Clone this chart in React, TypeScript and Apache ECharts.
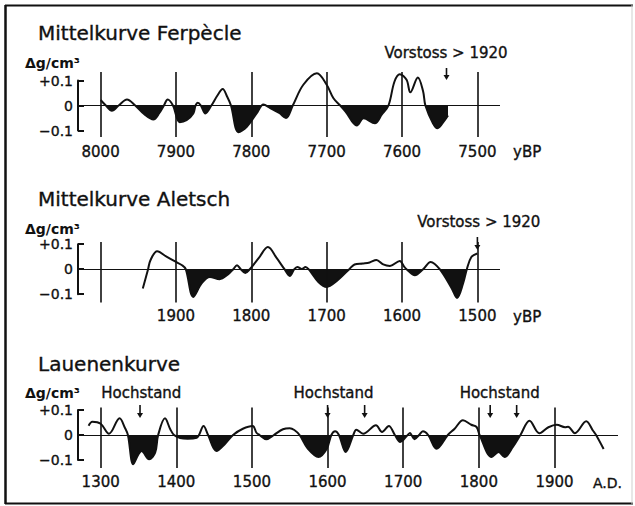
import React, { useEffect, useRef } from "react";
import * as echarts from "echarts";

// ---------- data ----------
const ferpYears = [8000, 7993, 7985, 7976, 7965, 7954, 7942, 7930, 7922, 7916, 7911, 7904, 7895, 7886, 7877, 7874, 7871, 7867, 7861, 7853, 7845, 7838, 7832, 7827, 7817, 7806, 7793, 7784, 7775, 7763, 7754, 7745, 7731, 7713, 7700, 7691, 7682, 7675, 7660, 7651, 7636, 7627, 7618, 7610, 7603, 7594, 7589, 7579, 7572, 7569, 7559, 7553, 7543, 7539];
const ferpValues = [0.022, 0, -0.021, 0, 0.024, 0, -0.035, -0.056, -0.03, 0, 0.024, 0, -0.067, -0.059, -0.032, 0, 0.011, 0, -0.032, 0, 0.04, 0.066, 0.035, 0, -0.107, -0.085, -0.032, 0.004, -0.01, -0.03, -0.05, 0, 0.083, 0.129, 0.083, 0.029, 0, -0.024, -0.08, -0.051, -0.071, -0.037, 0, 0.096, 0.125, 0.103, 0.053, 0.112, 0.056, 0, -0.071, -0.091, -0.057, -0.04];

const aletschYears = [1944, 1937, 1934, 1925, 1912, 1900, 1892, 1887, 1877, 1866, 1855, 1842, 1831, 1824, 1819, 1814, 1808, 1802, 1790, 1778, 1766, 1756, 1749, 1743, 1739, 1733, 1728, 1724, 1711, 1700, 1687, 1670, 1663, 1652, 1643, 1634, 1625, 1616, 1603, 1597, 1594, 1583, 1572, 1562, 1550, 1534, 1527, 1519, 1514, 1508, 1500];
const aletschValues = [-0.077, 0, 0.035, 0.072, 0.049, 0.029, 0.016, 0, -0.111, -0.057, -0.031, -0.04, -0.021, 0, 0.016, 0, -0.015, 0, 0.045, 0.089, 0.043, 0, -0.027, 0, 0.009, 0.001, 0.009, 0, -0.051, -0.071, -0.048, 0, 0.019, 0.023, 0.027, 0.037, 0.019, 0.013, 0.033, 0.009, 0, -0.024, 0, 0.029, 0, -0.077, -0.115, -0.057, 0, 0.049, 0.063];

const lauenenYears = [1284, 1289, 1300, 1311, 1325, 1332, 1336, 1343, 1350, 1354, 1364, 1372, 1376, 1385, 1392, 1397, 1405, 1415, 1427, 1430, 1436, 1442, 1453, 1464, 1475, 1488, 1501, 1506, 1510, 1519, 1529, 1541, 1550, 1556, 1563, 1574, 1588, 1599, 1605, 1610, 1615, 1624, 1634, 1638, 1647, 1664, 1672, 1681, 1689, 1696, 1706, 1709, 1711, 1715, 1721, 1726, 1733, 1744, 1759, 1768, 1779, 1790, 1797, 1801, 1817, 1826, 1834, 1845, 1855, 1867, 1880, 1892, 1903, 1914, 1918, 1927, 1942, 1951, 1955, 1965];
const lauenenValues = [0.037, 0.053, 0.045, 0.005, 0.067, 0.029, 0, -0.117, -0.077, -0.064, -0.097, -0.071, 0, 0.067, 0.023, 0, -0.012, -0.015, -0.011, 0, 0.036, 0, -0.064, -0.037, 0, 0.025, 0.036, 0.009, 0, -0.017, 0, 0.023, 0.027, 0.02, 0, -0.055, -0.088, -0.055, 0, 0.015, 0, -0.068, 0, 0.021, 0.005, 0.039, 0.012, 0.036, 0, -0.028, 0, 0.008, 0, -0.017, 0, 0.015, 0, -0.055, 0, 0.025, 0.059, 0.041, 0.032, 0, -0.088, -0.068, -0.088, -0.048, 0, 0.057, 0.007, 0.031, 0.041, 0.031, 0.033, 0.007, 0.055, 0.017, 0, -0.056];

// fill (black below zero) only between these years
const ferpFillRange = [7470, 8030];
const aletschFillRange = [1470, 1937];
const lauenenFillRange = [1270, 1955];

const ferpGridYears = [8000, 7900, 7800, 7700, 7600, 7500];
const ferpTickLabels = [8000, 7900, 7800, 7700, 7600, 7500];
const aletschGridYears = [2000, 1900, 1800, 1700, 1600, 1500];
const aletschTickLabels = [1900, 1800, 1700, 1600, 1500];
const lauenenGridYears = [1300, 1400, 1500, 1600, 1700, 1800, 1900];
const lauenenTickLabels = [1300, 1400, 1500, 1600, 1700, 1800, 1900];

const ferpArrowYears = [7541];
const aletschArrowYears = [1500];
const lauenenArrowYears = [1352, 1600, 1649, 1815, 1850];

const yBracketTicks = [-0.1, 0, 0.1];

// ---------- style / layout ----------
const FONT = "'DejaVu Sans', 'Liberation Sans', sans-serif";
const INK = "#111111";
const PX_PER_UNIT = 250; // 25 px per 0.1
const SMOOTH = 0.35;
const TEXT_STROKE = 0.35;

const panels = [
  {
    title: "Mittelkurve Ferpècle", titleY: 33.3, unitY: 63.3,
    years: ferpYears, values: ferpValues, fillRange: ferpFillRange,
    gridYears: ferpGridYears, labels: ferpTickLabels, arrowYears: ferpArrowYears,
    min: 7470, max: 8030, inverse: true,
    left: 78, right: 500, top: 72, bottom: 137, zero: 105.5, labelMargin: 7,
    arrowTop: 68, arrowBottom: 80,
    unitText: "yBP", unitX: 513, unitLabelY: 152,
    notes: [{ text: "Vorstoss > 1920", x: 446, y: 53.3, size: 15 }],
  },
  {
    title: "Mittelkurve Aletsch", titleY: 199.3, unitY: 229.3,
    years: aletschYears, values: aletschValues, fillRange: aletschFillRange,
    gridYears: aletschGridYears, labels: aletschTickLabels, arrowYears: aletschArrowYears,
    min: 1470, max: 2030, inverse: true,
    left: 78, right: 500, top: 242, bottom: 302.5, zero: 269.2, labelMargin: 6,
    arrowTop: 237, arrowBottom: 250,
    unitText: "yBP", unitX: 513, unitLabelY: 316.7,
    notes: [{ text: "Vorstoss > 1920", x: 478.8, y: 221.7, size: 15 }],
  },
  {
    title: "Lauenenkurve", titleY: 364, unitY: 393.3,
    years: lauenenYears, values: lauenenValues, fillRange: lauenenFillRange,
    gridYears: lauenenGridYears, labels: lauenenTickLabels, arrowYears: lauenenArrowYears,
    min: 1270, max: 1984, inverse: false,
    left: 78, right: 618, top: 407.5, bottom: 468, zero: 435, labelMargin: 6,
    arrowTop: 405, arrowBottom: 418,
    unitText: "A.D.", unitX: 593, unitLabelY: 482.7,
    notes: [
      { text: "Hochstand", x: 141.3, y: 393.3, size: 15 },
      { text: "Hochstand", x: 333.5, y: 392.7, size: 15 },
      { text: "Hochstand", x: 499.7, y: 392.7, size: 15 },
    ],
  },
];

function arrow(x: number, y1: number, y2: number) {
  return {
    type: "group",
    children: [
      { type: "line", shape: { x1: x, y1, x2: x, y2: y2 - 4 }, style: { stroke: INK, lineWidth: 1.6 } },
      { type: "polygon", shape: { points: [[x - 3, y2 - 5], [x + 3, y2 - 5], [x, y2]] }, style: { fill: INK } },
    ],
  };
}

function text(t: string, x: number, y: number, size: number, align = "left", weight = "normal") {
  return {
    type: "text",
    x, y,
    style: {
      text: t, fill: INK, font: `${weight} ${size}px ${FONT}`,
      textAlign: align, textVerticalAlign: "middle",
      stroke: INK, lineWidth: weight === "bold" ? 0 : TEXT_STROKE,
    },
  };
}

export default function App() {
  const ref = useRef<HTMLDivElement>(null);
  useEffect(() => {
    if (!ref.current) return;
    const chart = echarts.init(ref.current, null, { renderer: "svg", width: 635, height: 506 });

    const grid: any[] = [];
    const xAxis: any[] = [];
    const yAxis: any[] = [];
    const series: any[] = [];
    const visualMap: any[] = [];

    panels.forEach((p, i) => {
      grid.push({
        left: p.left, top: p.top, width: p.right - p.left, height: p.bottom - p.top,
        containLabel: false, outerBoundsMode: "none",
      });
      xAxis.push({
        type: "value", gridIndex: i, min: p.min, max: p.max, inverse: p.inverse, interval: 10,
        axisLine: { show: false }, axisTick: { show: false }, splitLine: { show: false },
        axisLabel: {
          margin: p.labelMargin, fontSize: 15, fontFamily: FONT, color: INK,
          textBorderColor: INK, textBorderWidth: TEXT_STROKE,
          showMinLabel: true, showMaxLabel: true,
          formatter: (v: number) => (p.labels.includes(Math.round(v)) ? String(Math.round(v)) : ""),
        },
      });
      yAxis.push({
        type: "value", gridIndex: i,
        min: -(p.bottom - p.zero) / PX_PER_UNIT, max: (p.zero - p.top) / PX_PER_UNIT,
        show: false,
      });
    });
    panels.forEach((p, i) => {
      grid.push({
        left: p.left, top: p.zero - 25, width: p.right - p.left, height: 50,
        containLabel: false, outerBoundsMode: "none",
      });
      xAxis.push({ type: "value", gridIndex: 3 + i, min: p.min, max: p.max, inverse: p.inverse, show: false });
      yAxis.push({
        type: "value", gridIndex: 3 + i, min: yBracketTicks[0], max: yBracketTicks[2], interval: 0.1,
        axisLine: { show: true, onZero: false, lineStyle: { color: INK, width: 2 } },
        axisTick: { show: true, inside: true, length: 6, lineStyle: { color: INK, width: 2 } },
        splitLine: { show: false },
        axisLabel: {
          margin: 5, fontSize: 14, fontFamily: FONT, color: INK,
          textBorderColor: INK, textBorderWidth: TEXT_STROKE,
          formatter: (v: number) => (v > 0.05 ? "+0.1" : v < -0.05 ? "\u22120.1" : "0"),
        },
      });
    });

    panels.forEach((p, i) => {
      const pairs = p.years.map((y, k) => [y, p.values[k]]);
      const fillPairs = pairs.filter((d) => d[0] >= p.fillRange[0] && d[0] <= p.fillRange[1]);
      series.push({
        type: "line", xAxisIndex: i, yAxisIndex: i, data: fillPairs, smooth: SMOOTH,
        showSymbol: false, silent: true, z: 2,
        lineStyle: { width: 0, opacity: 0 }, areaStyle: { opacity: 1 },
      });
      series.push({
        type: "line", xAxisIndex: i, yAxisIndex: i, data: pairs, smooth: SMOOTH,
        showSymbol: false, silent: true, z: 3,
        itemStyle: { color: INK }, lineStyle: { color: INK, width: 2 },
        markLine: {
          silent: true, symbol: ["none", "none"], label: { show: false },
          data: [
            ...p.gridYears.map((y) => ({ xAxis: y, lineStyle: { color: INK, width: 1.6, type: "solid" } })),
            { yAxis: 0, lineStyle: { color: INK, width: 1, type: "solid" } },
          ],
        },
      });
      visualMap.push({
        type: "piecewise", show: false, seriesIndex: 2 * i, dimension: 1,
        pieces: [
          { gte: -1, lt: 0, color: INK },
          { gte: 0, lte: 1, color: "rgba(255,255,255,0)" },
        ],
        outOfRange: { color: "rgba(255,255,255,0)" },
      });
    });

    chart.setOption({
      animation: false,
      backgroundColor: "#ffffff",
      grid, xAxis, yAxis, series, visualMap,
    });

    const graphic: any[] = [
      // frame
      { type: "line", shape: { x1: 5, y1: 5.5, x2: 633, y2: 5.5 }, style: { stroke: INK, lineWidth: 2 } },
      { type: "line", shape: { x1: 5.5, y1: 5, x2: 5.5, y2: 504 }, style: { stroke: INK, lineWidth: 2.5 } },
      { type: "line", shape: { x1: 5, y1: 503.5, x2: 633, y2: 503.5 }, style: { stroke: INK, lineWidth: 2 } },
      { type: "line", shape: { x1: 632, y1: 5, x2: 632, y2: 504 }, style: { stroke: "#cfcfcf", lineWidth: 1 } },
    ];
    panels.forEach((p, i) => {
      graphic.push(text(p.title, 38, p.titleY, 20));
      graphic.push(text("\u0394g/cm\u00b3", 25, p.unitY, 14, "left", "bold"));
      graphic.push(text(p.unitText, p.unitX, p.unitLabelY, p.unitText === "A.D." ? 14 : 15));
      p.notes.forEach((n) => graphic.push(text(n.text, n.x, n.y, n.size, "center")));
      p.arrowYears.forEach((yr) => {
        const x = chart.convertToPixel({ xAxisIndex: i } as any, yr) as unknown as number;
        graphic.push(arrow(x, p.arrowTop, p.arrowBottom));
      });
    });
    chart.setOption({ graphic });

    return () => chart.dispose();
  }, []);
  return (
    <div
      ref={ref}
      style={{ position: "fixed", left: 0, top: 0, width: 635, height: 506, background: "#fff" }}
    />
  );
}
